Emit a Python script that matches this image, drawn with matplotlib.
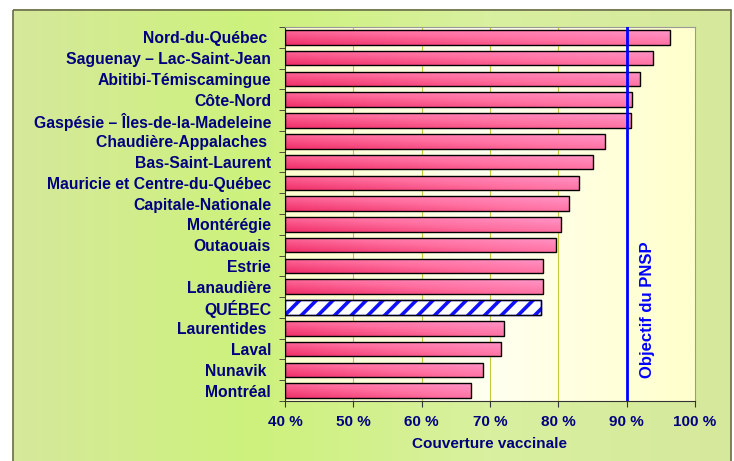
import numpy as np
import matplotlib.pyplot as plt
from matplotlib.patches import Rectangle
from matplotlib.colors import LinearSegmentedColormap

plt.rcParams['font.family'] = ['Liberation Sans', 'DejaVu Sans']
plt.rcParams['hatch.linewidth'] = 2.6

regions = ["Nord-du-Québec ", "Saguenay – Lac-Saint-Jean", "Abitibi-Témiscamingue",
           "Côte-Nord", "Gaspésie – Îles-de-la-Madeleine", "Chaudière-Appalaches ",
           "Bas-Saint-Laurent", "Mauricie et Centre-du-Québec", "Capitale-Nationale",
           "Montérégie", "Outaouais", "Estrie", "Lanaudière", "QUÉBEC",
           "Laurentides ", "Laval", "Nunavik ", "Montréal"]
couverture = [96.4, 93.8, 91.9, 90.8, 90.6, 86.8, 85.1, 83.0, 81.6,
              80.4, 79.6, 77.7, 77.7, 77.4, 72.1, 71.6, 69.0, 67.2]
xticks = [40, 50, 60, 70, 80, 90, 100]
objectif = 90

navy = '#000080'

fig = plt.figure(figsize=(7.34, 4.61), dpi=100)

# outer frame with green gradient
bg = fig.add_axes([0, 0, 1, 1])
bg.set_xlim(0, 734)
bg.set_ylim(461, 0)
bg.axis('off')
green = LinearSegmentedColormap.from_list('g', ['#d6e89c', '#cdf27c', '#d9f0a0', '#d6e89c'])
gx = np.linspace(0, 1, 256).reshape(1, -1)
bg.imshow(gx, cmap=green, extent=[13, 731, 470, 10], aspect='auto', zorder=0)
bg.add_patch(Rectangle((13, 10), 718, 470, fill=False, edgecolor='#6b6b4a', lw=1.2, zorder=1))

ax = fig.add_axes([285 / 734, 1 - 401 / 461, 410 / 734, 374 / 461])
n = len(regions)
y = np.arange(n)
ax.set_xlim(40, 100)
ax.set_ylim(n - 0.5, -0.5)

# plot area background
yellow = LinearSegmentedColormap.from_list('y', ['#ffffcf', '#fffff0', '#ffffcc'])
ax.imshow(gx, cmap=yellow, extent=[40, 100, n - 0.5, -0.5], aspect='auto', zorder=0)

for xv in xticks[1:-1]:
    ax.axvline(xv, color='#c8c83c', lw=0.8, zorder=1)

pink = LinearSegmentedColormap.from_list('p', ['#f0306a', '#ff6f9f', '#ff95c8'])
bars = ax.barh(y, [v - 40 for v in couverture], left=40, height=0.7,
               color='none', edgecolor='black', lw=1.0, zorder=3)
for i, b in enumerate(bars):
    if regions[i] == "QUÉBEC":
        b.set_facecolor('white')
        b.set_hatch('//')
        b.set_edgecolor('#1010ff')
        ax.barh(y[i], couverture[i] - 40, left=40, height=0.7, color='none',
                edgecolor='black', lw=1.0, zorder=4)
        continue
    yy, xx = np.mgrid[0:1:20j, 0:1:100j]
    grad = 0.55 * xx + 0.45 * (1 - yy)
    im = ax.imshow(grad, cmap=pink, vmin=0, vmax=1,
                   extent=[40, couverture[i], y[i] + 0.35, y[i] - 0.35],
                   aspect='auto', zorder=2)
    im.set_clip_path(b)

ax.axvline(objectif, color='#0000ff', lw=2, zorder=5)
ax.text(93.0, 0.243, "Objectif du PNSP", transform=ax.get_xaxis_transform(),
        rotation=90, ha='center', va='center', color='#0000ff',
        fontsize=12, fontweight='bold')

ax.set_yticks(y)
ax.set_yticklabels(regions, fontsize=11.3, fontweight='bold', color=navy)
ax.set_yticks(np.arange(-0.5, n, 1), minor=True)
ax.tick_params(axis='y', which='major', length=0, pad=10)
ax.tick_params(axis='y', which='minor', length=4, direction='out', color='#333333')

ax.set_xticks(xticks)
ax.set_xticklabels([f"{v} %" for v in xticks], fontsize=11, fontweight='bold', color=navy)
ax.tick_params(axis='x', length=4, direction='out', pad=6, color='#333333')
ax.set_xlabel("Couverture vaccinale", fontsize=11, fontweight='bold', color=navy, labelpad=6)

for s in ['top', 'right']:
    ax.spines[s].set_color('#999999')
for s in ['left', 'bottom']:
    ax.spines[s].set_color('#333333')

fig.savefig('out.png', dpi=100)
